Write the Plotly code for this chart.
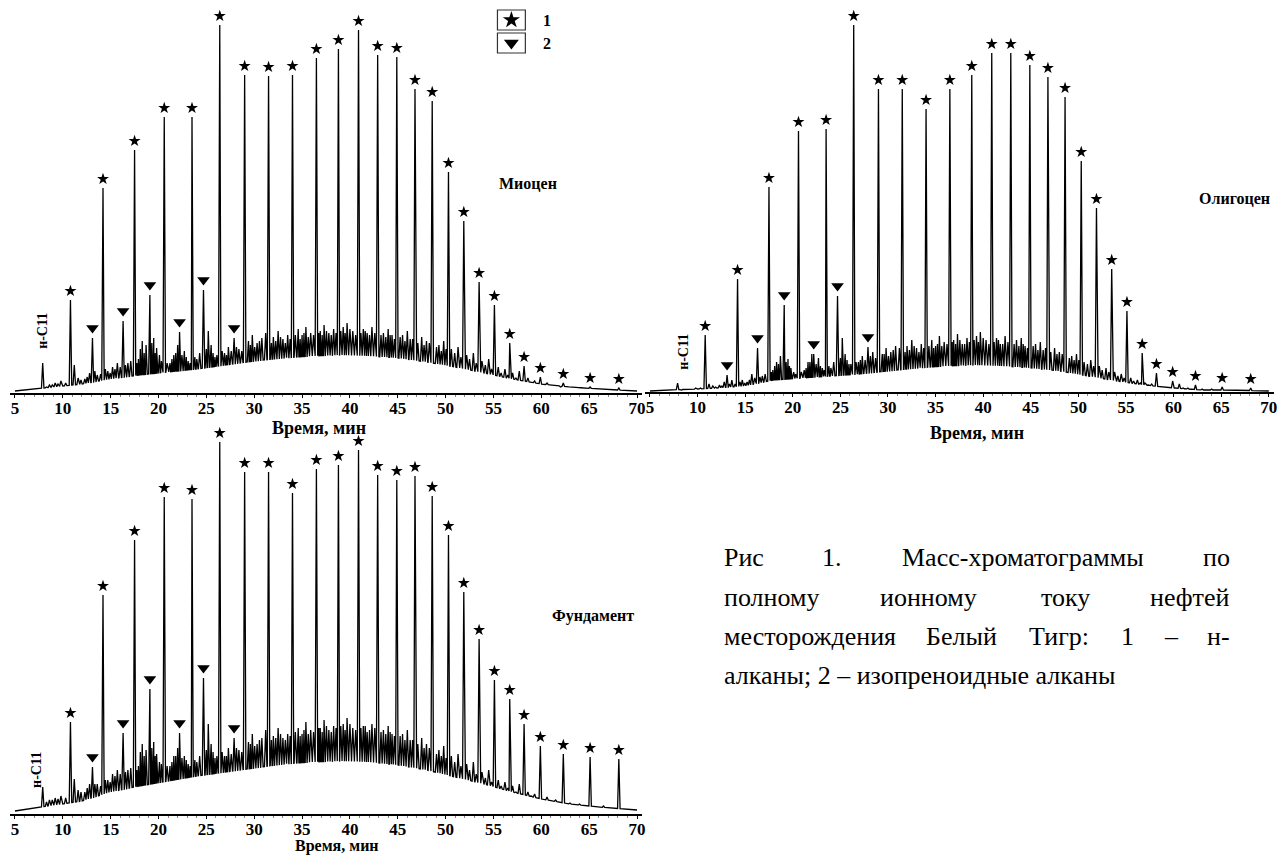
import numpy as np
import plotly.graph_objects as go

W, H = 1286, 855
SERIF = "Liberation Serif"

# ---------------- data ----------------
# retention times, min
c11_t = 7.9
nalk_t = [10.8, 14.2, 17.5, 20.6, 23.5, 26.4, 29.0, 31.5, 34.0, 36.5, 38.8, 40.9, 42.9,
          44.9, 46.8, 48.6, 50.3, 51.9, 53.5, 55.1, 56.7, 58.2, 59.9, 62.3, 65.1, 68.1]
iso_t = [13.1, 16.3, 19.1, 22.2, 24.7, 27.9]
hump_t = [5, 7, 10, 12, 15, 18, 21, 24, 27, 30, 33, 36, 39, 42, 45, 48, 51, 54, 57, 60, 63, 66, 70]
minor_t = [8.6, 9.2, 9.8, 11.2, 11.6, 12.3, 12.8, 13.6, 14.7, 15.2, 15.7, 16.8, 17.9, 18.3, 18.7,
           19.5, 19.8, 20.1, 21.2, 21.6, 22.0, 22.7, 23.1, 24.0, 25.2, 25.5, 25.9, 26.9, 27.3, 27.6,
           28.4, 29.4, 29.8, 30.3, 30.8, 31.2, 32.0, 32.5, 33.0, 33.5, 34.6, 35.0, 35.4, 35.9, 36.9,
           37.3, 37.8, 38.3, 39.3, 39.7, 40.3, 41.4, 41.8, 42.3, 43.5, 44.0, 44.4, 45.5, 46.0, 46.3,
           47.5, 48.0, 49.3, 49.8, 50.6, 51.3, 52.2, 52.9, 53.8, 54.5, 55.5, 56.2, 57.0, 57.7, 58.6,
           59.3, 60.6, 61.5, 63.0, 64.0, 66.5]
minor2_t = [8.3, 8.9, 9.5, 10.3, 11.9, 12.55, 13.35, 13.95, 14.45, 14.95, 15.45, 16.0, 16.55, 17.1,
            17.75, 18.1, 18.5, 19.3, 19.65, 20.3, 20.9, 21.4, 21.8, 22.45, 22.9, 23.3, 23.8, 24.3,
            25.0, 25.7, 26.1, 26.65, 27.1, 28.15, 28.7, 29.6, 30.05, 30.55, 31.8, 32.25, 32.75, 33.25,
            33.75, 34.3, 34.8, 35.2, 35.65, 36.2, 36.75, 37.1, 37.55, 38.05, 38.55, 39.05, 39.5, 40.0,
            40.6, 41.15, 41.6, 42.05, 42.6, 43.25, 43.75, 44.2, 44.65, 45.25, 45.75, 46.55, 47.1, 47.75,
            48.3, 49.05, 49.55, 50.05, 50.95, 51.6, 52.5, 53.2, 54.15, 54.8, 55.8, 56.5, 57.35, 58.95,
            60.2, 61.0, 62.0, 63.5]

# Miocene (abundance, arbitrary units)
mio_c11 = 30
mio_nalk = [93, 205, 243, 276, 276, 368, 318, 317, 318, 335, 344, 363, 338, 336, 304, 292,
            221, 172, 111, 88, 50, 27, 16, 10, 6, 5]
mio_iso = [55, 72, 98, 61, 103, 55]
mio_hump = [2, 4, 7, 9, 14, 18, 21, 24, 28, 32, 35, 37, 38, 37, 35, 31, 26, 20, 14, 9, 6, 4, 2]
mio_minor = [8, 10, 12, 28, 15, 14, 20, 18, 22, 26, 30, 30, 34, 52, 48, 55, 45, 38, 30, 38,
             48, 42, 32, 34, 62, 48, 36, 40, 46, 42, 44, 52, 58, 50, 55, 60, 56, 62, 54, 58,
             64, 58, 66, 60, 62, 68, 60, 64, 66, 70, 62, 64, 60, 66, 60, 64, 58, 58, 62, 54,
             56, 52, 48, 52, 44, 46, 38, 40, 32, 34, 26, 24, 20, 22, 15, 12, 10, 8, 6, 5, 4]
mio_minor2 = [6, 8, 9, 10, 13, 16, 22, 19, 24, 20, 24, 26, 28, 32, 30, 44, 40, 50, 40, 32,
              30, 34, 40, 38, 36, 30, 36, 40, 44, 40, 38, 42, 38, 46, 42, 48, 46, 52, 50, 52,
              56, 50, 54, 58, 54, 60, 56, 58, 60, 58, 62, 58, 60, 62, 60, 64, 58, 60, 62, 58,
              60, 58, 56, 58, 54, 56, 52, 54, 50, 48, 50, 46, 42, 44, 40, 36, 34, 30, 28, 24,
              20, 18, 15, 11, 9, 8, 6, 5]

# Oligocene
oli_c11 = 9
oli_nalk = [57, 113, 205, 261, 263, 367, 303, 303, 283, 303, 317, 339, 339, 327, 315, 295,
            231, 184, 123, 81, 39, 19, 11, 7, 5, 4]
oli_iso = [17, 44, 87, 38, 96, 45]
oli_hump = [1, 2, 3, 4, 6, 12, 14, 16, 18, 21, 24, 26, 27, 26, 24, 21, 16, 11, 7, 4, 2, 2, 1]
oli_minor = [3, 3, 4, 8, 6, 7, 10, 12, 12, 10, 18, 16, 22, 30, 36, 33, 24, 20, 22, 30,
             38, 34, 24, 24, 54, 38, 28, 30, 36, 32, 40, 38, 44, 40, 46, 44, 46, 52, 44, 48,
             52, 46, 56, 50, 52, 58, 48, 54, 56, 60, 52, 54, 48, 56, 52, 54, 46, 48, 50, 42,
             44, 40, 36, 38, 30, 32, 26, 24, 20, 18, 14, 12, 9, 8, 6, 5, 8, 4, 3, 3, 2]
oli_minor2 = [2, 3, 3, 4, 5, 6, 8, 8, 10, 9, 12, 14, 15, 18, 20, 26, 28, 30, 26, 18,
              20, 24, 30, 28, 26, 22, 26, 30, 34, 32, 28, 30, 32, 36, 34, 38, 36, 42, 40, 42,
              46, 40, 44, 46, 44, 48, 46, 48, 50, 48, 52, 48, 50, 52, 50, 54, 48, 50, 52, 48,
              50, 48, 46, 48, 44, 46, 42, 44, 40, 38, 38, 34, 32, 32, 28, 26, 22, 20, 16, 14,
              11, 9, 7, 5, 4, 4, 3, 2]

# Basement (Фундамент)
fun_c11 = 27
fun_nalk = [92, 219, 274, 317, 315, 372, 342, 342, 321, 345, 349, 364, 339, 334, 338, 318,
            279, 222, 175, 134, 115, 90, 68, 60, 57, 55]
fun_iso = [47, 81, 125, 81, 136, 76]
fun_hump = [3, 6, 10, 13, 22, 28, 33, 38, 42, 46, 50, 52, 53, 52, 49, 44, 37, 30, 22, 15, 10, 7, 4]
fun_minor = [14, 16, 18, 35, 24, 22, 30, 30, 34, 40, 44, 44, 48, 70, 64, 72, 60, 52, 48, 58,
             66, 58, 50, 52, 90, 70, 56, 58, 66, 60, 64, 72, 80, 70, 76, 84, 78, 86, 76, 80,
             86, 80, 92, 84, 86, 94, 84, 88, 90, 96, 86, 88, 82, 90, 84, 88, 80, 80, 84, 74,
             76, 70, 64, 68, 58, 60, 50, 52, 42, 44, 34, 32, 28, 30, 22, 20, 17, 14, 11, 10, 8]
fun_minor2 = [12, 14, 15, 16, 22, 26, 30, 28, 34, 32, 38, 40, 42, 46, 44, 62, 58, 66, 58, 50,
              48, 52, 58, 56, 54, 48, 54, 58, 64, 62, 58, 62, 58, 66, 62, 70, 68, 74, 74, 76,
              80, 74, 78, 82, 78, 84, 80, 82, 86, 82, 88, 82, 86, 88, 84, 90, 84, 86, 88, 84,
              86, 82, 80, 82, 78, 78, 74, 74, 70, 66, 66, 60, 58, 56, 52, 48, 44, 40, 36, 32,
              28, 26, 22, 18, 15, 13, 11, 9]

tick_vals = [5, 10, 15, 20, 25, 30, 35, 40, 45, 50, 55, 60, 65, 70]
panel_names = ["Миоцен", "Олигоцен", "Фундамент"]
axis_title = "Время, мин"
legend_labels = ["1", "2"]
caption_lines = [
    ["Рис", "1.", "Масс-хроматограммы", "по"],
    ["полному", "ионному", "току", "нефтей"],
    ["месторождения", "Белый", "Тигр:", "1", "–", "н-"],
]
caption_last = "алканы; 2 – изопреноидные алканы"

# ---------------- helpers ----------------
def PX(x):
    return x / W


def PY(y):
    return 1 - y / H


def trace_points(hump, nalk, iso, c11, minor, minor2, w=0.13):
    peaks = sorted(list(zip(nalk_t, nalk)) + list(zip(iso_t, iso)) + [(c11_t, c11)]
                   + list(zip(minor_t, minor)) + list(zip(minor2_t, minor2)))
    pts = []
    for t, h in peaks:
        for dt in (-w, w):
            pts.append((t + dt, float(np.interp(t + dt, hump_t, hump))))
        pts.append((t, h))
    for t, b in zip(hump_t, hump):
        if all(abs(t - pt) > w for pt, _ in peaks):
            pts.append((t, b))
    pts.sort(key=lambda p: p[0])
    return [p[0] for p in pts], [p[1] for p in pts]


fig = go.Figure()

# panel geometry (pixels): x of t=5, px per min, y of baseline, plot height
panels = [
    dict(data=(mio_hump, mio_nalk, mio_iso, mio_c11, mio_minor, mio_minor2), x5=15, k=9.6, base=393, hgt=393),
    dict(data=(oli_hump, oli_nalk, oli_iso, oli_c11, oli_minor, oli_minor2), x5=652, k=9.55, base=392, hgt=392),
    dict(data=(fun_hump, fun_nalk, fun_iso, fun_c11, fun_minor, fun_minor2), x5=15, k=9.6, base=814, hgt=386),
]

layout_axes = {}
for i, p in enumerate(panels):
    sfx = "" if i == 0 else str(i + 1)
    xa, ya = "x" + sfx, "y" + sfx
    hump, nalk, iso, c11, minor, minor2 = p["data"]
    xs, ys = trace_points(hump, nalk, iso, c11, minor, minor2)
    fig.add_trace(go.Scatter(x=xs, y=ys, mode="lines", line=dict(color="black", width=1.3),
                             xaxis=xa, yaxis=ya, showlegend=False, hoverinfo="skip"))
    fig.add_trace(go.Scatter(x=nalk_t, y=[h + 9 for h in nalk], mode="markers",
                             marker=dict(symbol="star", size=9, color="black"),
                             xaxis=xa, yaxis=ya, showlegend=False, cliponaxis=False))
    fig.add_trace(go.Scatter(x=iso_t, y=[h + 10 for h in iso], mode="markers",
                             marker=dict(symbol="triangle-down", size=11, color="black"),
                             xaxis=xa, yaxis=ya, showlegend=False, cliponaxis=False))
    x0 = p["x5"] - 0.5 * p["k"]
    x1 = x0 + 66 * p["k"]
    layout_axes["xaxis" + sfx] = dict(
        domain=[PX(x0), PX(x1)], range=[4.5, 70.5], anchor=ya,
        showline=True, linecolor="black", linewidth=2, mirror=False,
        ticks="outside", ticklen=3, tickwidth=1, tickcolor="black", ticklabelstandoff=-4,
        tickvals=tick_vals, ticktext=[str(v) for v in tick_vals],
        tickfont=dict(family=SERIF, size=17, color="black", weight="bold"),
        showgrid=False, zeroline=False, fixedrange=True,
        minor=dict(ticks="outside", dtick=1, ticklen=2, tickcolor="#888", showgrid=False),
    )
    layout_axes["yaxis" + sfx] = dict(
        domain=[PY(p["base"]), PY(p["base"] - p["hgt"])], range=[0, p["hgt"]],
        anchor=xa, visible=False, fixedrange=True,
    )

ann = []
bold = dict(family=SERIF, color="black", weight="bold")


def label(cx, cy, text, size, font=None, xanchor="center", angle=0):
    ann.append(dict(x=PX(cx), y=PY(cy), xref="paper", yref="paper", text=text,
                    xanchor=xanchor, yanchor="middle", textangle=angle, showarrow=False,
                    font=dict(size=size, **(font or bold))))


# axis titles
for (cx, cy, fs) in [(320, 428, 18), (980, 433, 18), (338, 846, 16)]:
    label(cx, cy, axis_title, fs)
# panel names
for name, (cx, cy) in zip(panel_names, [(530, 183), (1238, 198), (595, 616)]):
    label(cx, cy, name, 16)
# n-C11 labels
for (cx, cy) in [(43, 331), (685, 352), (36, 770)]:
    label(cx, cy, "н-C11", 14, angle=-90)

# legend boxes
shapes = []
leg = [(513, 20, "star"), (513, 43, "triangle-down")]
for (cx, cy, sym), lab in zip(leg, legend_labels):
    shapes.append(dict(type="rect", xref="paper", yref="paper",
                       x0=PX(cx - 14), x1=PX(cx + 14), y0=PY(cy + 10), y1=PY(cy - 10),
                       line=dict(color="#333", width=1.2), fillcolor="rgba(0,0,0,0)"))
    fig.add_trace(go.Scatter(x=[PX(cx)], y=[PY(cy)], xaxis="x4", yaxis="y4", mode="markers",
                             marker=dict(symbol=sym, size=13, color="black"),
                             showlegend=False, hoverinfo="skip"))
    label(cx + 30, cy, lab, 16, xanchor="left")
layout_axes["xaxis4"] = dict(domain=[0, 1], range=[0, 1], visible=False, anchor="y4", fixedrange=True)
layout_axes["yaxis4"] = dict(domain=[0, 1], range=[0, 1], visible=False, anchor="x4", fixedrange=True)

# caption, justified between x=724 and x=1236
CW = {"а": .444, "б": .5, "в": .472, "г": .41, "д": .5, "е": .444, "ж": .69, "з": .395, "и": .535,
      "й": .535, "к": .486, "л": .5, "м": .63, "н": .535, "о": .5, "п": .535, "р": .5, "с": .444,
      "т": .444, "у": .5, "ф": .648, "х": .5, "ц": .535, "ч": .5, "ш": .77, "щ": .77, "ы": .71,
      "ь": .46, "я": .5, "Р": .556, "М": .889, "Б": .556, "Т": .611, ".": .25, ":": .278,
      ";": .278, "-": .333, "–": .5, " ": .25}
FS = 26
cap_left, cap_right = 724, 1236
cap_y = [557, 597, 636, 675]
cap_font = dict(family=SERIF, color="black")


def wpx(s):
    return sum(CW.get(c, .5) for c in s) * FS


for words, yy in zip(caption_lines, cap_y):
    widths = [wpx(w_) for w_ in words]
    gap = (cap_right - cap_left - sum(widths)) / (len(words) - 1)
    xcur = cap_left
    for j, (w_, wd) in enumerate(zip(words, widths)):
        if j == 0:
            label(cap_left, yy, w_, FS, cap_font, xanchor="left")
        elif j == len(words) - 1:
            label(cap_right, yy, w_, FS, cap_font, xanchor="right")
        else:
            label(xcur + wd / 2, yy, w_, FS, cap_font)
        xcur += wd + gap
label(cap_left, cap_y[3], caption_last, FS, cap_font, xanchor="left")

fig.update_layout(
    width=W, height=H, margin=dict(l=0, r=0, t=0, b=0),
    paper_bgcolor="white", plot_bgcolor="rgba(0,0,0,0)",
    showlegend=False, annotations=ann, shapes=shapes, **layout_axes,
)
fig.write_html("out.html", config={"displayModeBar": False},
               post_script="document.body.style.margin='0';document.body.style.overflow='hidden';")
